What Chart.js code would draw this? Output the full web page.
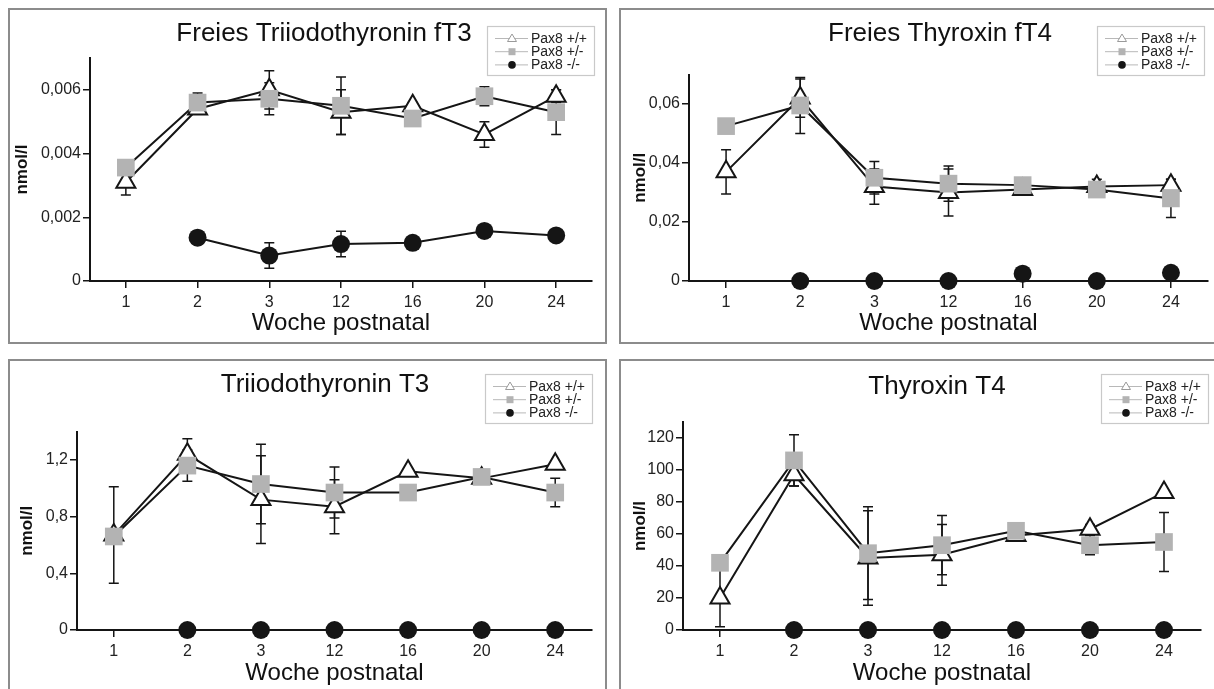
<!DOCTYPE html>
<html>
<head>
<meta charset="utf-8">
<script src="https://cdn.jsdelivr.net/npm/chart.js@4.4.0/dist/chart.umd.min.js"></script>
<style>
  body { margin: 0; background: #fff; width: 1214px; height: 689px; overflow: hidden; position: relative; }
  .panel { position: absolute; border: 2px solid #8c8c8c; box-sizing: border-box; overflow: hidden; }
  .panel canvas { position: absolute; left: 0; top: 0; }
</style>
</head>
<body>
<div class="panel" style="left:8px;top:8px;width:599px;height:336px"><canvas id="c1" width="595" height="332"></canvas></div>
<div class="panel" style="left:619px;top:8px;width:610px;height:336px"><canvas id="c2" width="600" height="332"></canvas></div>
<div class="panel" style="left:8px;top:359px;width:599px;height:340px"><canvas id="c3" width="595" height="330"></canvas></div>
<div class="panel" style="left:619px;top:359px;width:610px;height:340px"><canvas id="c4" width="600" height="330"></canvas></div>
<script>
// weeks after birth
var weeks = ['1', '2', '3', '12', '16', '20', '24'];
var groups = ['Pax8 +/+', 'Pax8 +/-', 'Pax8 -/-'];

// free T3 (nmol/l)
var ft3Ticks = [0, 0.002, 0.004, 0.006];
var ft3Wt    = [0.0031, 0.0054, 0.0060, 0.0053, 0.0055, 0.0046, 0.0058];
var ft3WtSd  = [0.0004, 0.0001, 0.0006, 0.0007, 0.0001, 0.0004, 0.0002];
var ft3Het   = [0.00356, 0.0056, 0.00572, 0.0055, 0.0051, 0.0058, 0.0053];
var ft3HetSd = [0.0001, 0.0003, 0.0005, 0.0009, 0.0001, 0.0003, 0.0007];
var ft3Ko    = [null, 0.00136, 0.0008, 0.00116, 0.0012, 0.00157, 0.00143];
var ft3KoSd  = [0, 0.0002, 0.0004, 0.0004, 0.0001, 0.0001, 0.0001];

// free T4 (nmol/l)
var ft4Ticks = [0, 0.02, 0.04, 0.06];
var ft4Wt    = [0.037, 0.062, 0.032, 0.030, 0.031, 0.032, 0.0325];
var ft4WtSd  = [0.0075, 0.0065, 0.006, 0.008, 0.001, 0.0025, 0.002];
var ft4Het   = [0.0525, 0.0595, 0.035, 0.033, 0.0325, 0.031, 0.028];
var ft4HetSd = [0.001, 0.0095, 0.0055, 0.006, 0.001, 0.001, 0.0065];
var ft4Ko    = [null, 0, 0, 0, 0.0025, 0, 0.0028];
var ft4KoSd  = [0, 0, 0, 0, 0, 0, 0];

// T3 (nmol/l)
var t3Ticks = [0, 0.4, 0.8, 1.2];
var t3Wt    = [0.67, 1.24, 0.92, 0.87, 1.12, 1.07, 1.17];
var t3WtSd  = [0.34, 0.11, 0.31, 0.19, 0.02, 0.02, 0.02];
var t3Het   = [0.66, 1.16, 1.03, 0.97, 0.97, 1.08, 0.97];
var t3HetSd = [0.02, 0.11, 0.28, 0.18, 0.02, 0.02, 0.10];
var t3Ko    = [null, 0, 0, 0, 0, 0, 0];
var t3KoSd  = [0, 0, 0, 0, 0, 0, 0];

// T4 (nmol/l)
var t4Ticks = [0, 20, 40, 60, 80, 100, 120];
var t4Wt    = [20, 97, 45, 47, 59, 63, 86];
var t4WtSd  = [18, 7, 29.5, 19, 2, 3, 2];
var t4Het   = [42, 106, 48, 53, 62, 53, 55];
var t4HetSd = [2, 16, 29, 18.5, 2, 6, 18.5];
var t4Ko    = [null, 0, 0, 0, 0, 0, 0];
var t4KoSd  = [0, 0, 0, 0, 0, 0, 0];

Chart.defaults.font.family = "'Liberation Sans', Arial, sans-serif";
Chart.defaults.color = '#222';

var ink = '#151515';
var squareGrey = '#b3b3b3';

// error bars, drawn under the markers
var errorBars = {
  id: 'errorBars',
  beforeDatasetsDraw: function (chart) {
    var ctx = chart.ctx, y = chart.scales.y;
    ctx.save();
    ctx.strokeStyle = ink;
    ctx.lineWidth = 1.5;
    chart.data.datasets.forEach(function (ds, i) {
      if (!ds.errors) return;
      var meta = chart.getDatasetMeta(i);
      meta.data.forEach(function (pt, j) {
        var v = ds.data[j], e = ds.errors[j];
        if (v == null || !e) return;
        var yt = y.getPixelForValue(v + e), yb = y.getPixelForValue(v - e);
        ctx.beginPath();
        ctx.moveTo(pt.x, yt); ctx.lineTo(pt.x, yb);
        ctx.moveTo(pt.x - 5, yt); ctx.lineTo(pt.x + 5, yt);
        ctx.moveTo(pt.x - 5, yb); ctx.lineTo(pt.x + 5, yb);
        ctx.stroke();
      });
    });
    ctx.restore();
  }
};

// panel title and framed legend
var panelDeco = {
  id: 'panelDeco',
  afterDraw: function (chart, args, opts) {
    var ctx = chart.ctx;
    ctx.save();
    ctx.fillStyle = '#111';
    ctx.font = "26px 'Liberation Sans', Arial, sans-serif";
    ctx.textAlign = 'center';
    ctx.textBaseline = 'middle';
    ctx.fillText(opts.title, opts.titleX, opts.titleY);

    var lx = opts.legendX, ly = opts.legendY;
    ctx.strokeStyle = '#c9c9c9';
    ctx.lineWidth = 1.2;
    ctx.strokeRect(lx + 0.5, ly + 0.5, 107, 49);
    ctx.font = "14px 'Liberation Sans', Arial, sans-serif";
    ctx.textAlign = 'left';
    groups.forEach(function (g, k) {
      var ry = ly + 12.5 + k * 13.2;
      ctx.strokeStyle = '#b8b8b8';
      ctx.lineWidth = 1;
      ctx.beginPath(); ctx.moveTo(lx + 8, ry); ctx.lineTo(lx + 41, ry); ctx.stroke();
      var cx = lx + 25;
      if (k === 0) {
        ctx.fillStyle = '#fff';
        ctx.strokeStyle = '#9a9a9a';
        ctx.beginPath();
        ctx.moveTo(cx, ry - 4.5); ctx.lineTo(cx + 4.5, ry + 3); ctx.lineTo(cx - 4.5, ry + 3); ctx.closePath();
        ctx.fill(); ctx.stroke();
      } else if (k === 1) {
        ctx.fillStyle = squareGrey;
        ctx.fillRect(cx - 3.5, ry - 3.5, 7, 7);
      } else {
        ctx.fillStyle = ink;
        ctx.beginPath(); ctx.arc(cx, ry, 3.8, 0, Math.PI * 2); ctx.fill();
      }
      ctx.fillStyle = '#222';
      ctx.fillText(g, lx + 44, ry + 0.5);
    });
    ctx.restore();
  }
};

var panels = [
  { id: 'c1', title: 'Freies Triiodothyronin fT3', series: [ft3Wt, ft3Het, ft3Ko], sd: [ft3WtSd, ft3HetSd, ft3KoSd],
    ticks: ft3Ticks, yMax: 0.007, dec: 3, koLine: true,
    area: { left: 80, right: 583, top: 48, bottom: 271 }, titleX: 314, titleY: 24, legendX: 477, legendY: 16, yTitleX: 12, xTitleY: 313 },
  { id: 'c2', title: 'Freies Thyroxin fT4', series: [ft4Wt, ft4Het, ft4Ko], sd: [ft4WtSd, ft4HetSd, ft4KoSd],
    ticks: ft4Ticks, yMax: 0.07, dec: 2, koLine: false,
    area: { left: 68, right: 587, top: 64.5, bottom: 271 }, titleX: 319, titleY: 24, legendX: 476, legendY: 16, yTitleX: 19, xTitleY: 313 },
  { id: 'c3', title: 'Triiodothyronin T3', series: [t3Wt, t3Het, t3Ko], sd: [t3WtSd, t3HetSd, t3KoSd],
    ticks: t3Ticks, yMax: 1.4, dec: 1, koLine: true,
    area: { left: 67, right: 587, top: 70.6, bottom: 269 }, titleX: 315, titleY: 24, legendX: 475, legendY: 13, yTitleX: 17, xTitleY: 312 },
  { id: 'c4', title: 'Thyroxin T4', series: [t4Wt, t4Het, t4Ko], sd: [t4WtSd, t4HetSd, t4KoSd],
    ticks: t4Ticks, yMax: 130, dec: 0, koLine: true,
    area: { left: 62, right: 580, top: 61, bottom: 269 }, titleX: 316, titleY: 26, legendX: 480, legendY: 13, yTitleX: 19, xTitleY: 312 }
];

var yTitleFont = { size: 17, weight: 'bold', lineHeight: 1.2 };
var xTitleFont = { size: 24, lineHeight: 1.2 };

function drawPanel(p) {
  var canvas = document.getElementById(p.id);
  var a = p.area;
  var padLeft = p.yTitleX - yTitleFont.size * yTitleFont.lineHeight / 2;
  var yWidth = a.left - padLeft;
  var xHeight = p.xTitleY + xTitleFont.size * xTitleFont.lineHeight / 2 - a.bottom;
  var padBottom = canvas.height - (a.bottom + xHeight);

  new Chart(canvas, {
    type: 'line',
    data: {
      labels: weeks,
      datasets: [
        { label: groups[0], data: p.series[0], errors: p.sd[0], order: 1,
          borderColor: ink, borderWidth: 2, tension: 0, clip: false,
          pointStyle: 'triangle', pointRadius: 11, pointBackgroundColor: '#fff',
          pointBorderColor: ink, pointBorderWidth: 2 },
        { label: groups[1], data: p.series[1], errors: p.sd[1], order: 0,
          borderColor: ink, borderWidth: 2, tension: 0, clip: false,
          pointStyle: 'rect', pointRadius: 12.5, pointBackgroundColor: squareGrey,
          pointBorderColor: squareGrey, pointBorderWidth: 0 },
        { label: groups[2], data: p.series[2], errors: p.sd[2], order: 2, showLine: p.koLine,
          borderColor: ink, borderWidth: 2, tension: 0, clip: false,
          pointStyle: 'circle', pointRadius: 9, pointBackgroundColor: ink,
          pointBorderColor: ink, pointBorderWidth: 0 }
      ]
    },
    options: {
      responsive: false,
      animation: false,
      events: [],
      layout: { padding: { left: padLeft, top: a.top, right: canvas.width - a.right, bottom: padBottom } },
      plugins: {
        legend: { display: false },
        title: { display: false },
        tooltip: { enabled: false },
        panelDeco: { title: p.title, titleX: p.titleX, titleY: p.titleY, legendX: p.legendX, legendY: p.legendY }
      },
      scales: {
        x: {
          type: 'category',
          offset: true,
          grid: { offset: false, drawOnChartArea: false, drawTicks: true, tickLength: 7, color: ink, lineWidth: 1.5 },
          border: { color: ink, width: 2 },
          ticks: { font: { size: 16 }, color: '#222', padding: 5, maxRotation: 0, autoSkip: false },
          title: { display: true, text: 'Woche postnatal', font: xTitleFont, color: '#111', padding: 0 },
          afterFit: function (s) { s.height = xHeight; }
        },
        y: {
          min: 0,
          max: p.yMax,
          grid: { drawOnChartArea: false, drawTicks: true, tickLength: 7, color: ink, lineWidth: 1.5 },
          border: { color: ink, width: 2 },
          ticks: {
            font: { size: 16 },
            color: '#222',
            padding: 2,
            callback: function (v) { return v === 0 ? '0' : v.toFixed(p.dec).replace('.', ','); }
          },
          afterBuildTicks: function (s) {
            s.ticks = p.ticks.map(function (v) { return { value: v }; });
          },
          title: { display: true, text: 'nmol/l', font: yTitleFont, color: '#111', padding: 0 },
          afterFit: function (s) { s.width = yWidth; }
        }
      }
    },
    plugins: [errorBars, panelDeco]
  });
}

panels.forEach(drawPanel);
</script>
</body>
</html>
